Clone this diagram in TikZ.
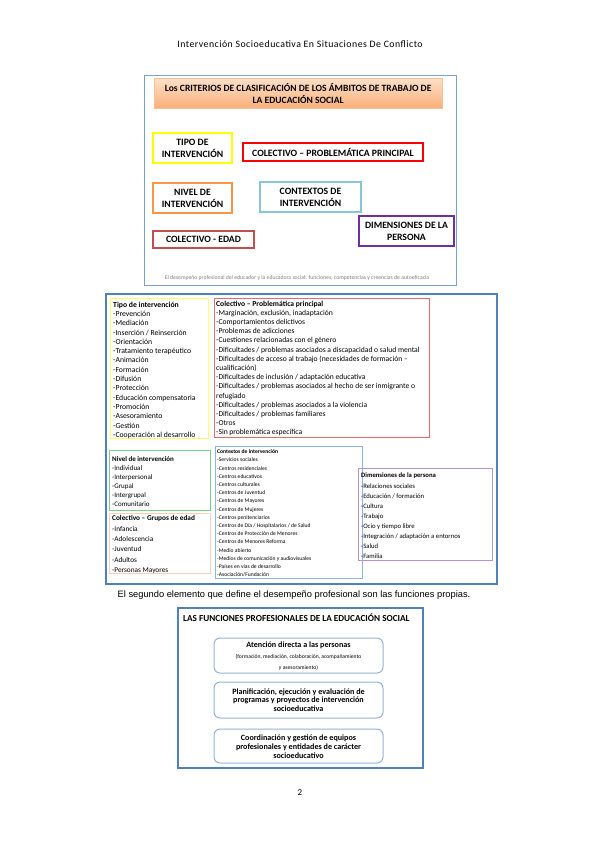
\documentclass[tikz,border=0pt]{standalone}
\usepackage{fontspec}
\setmainfont{Carlito}
\newfontfamily\arialf{Liberation Sans}
\usetikzlibrary{positioning,shadings}
\definecolor{fonecol}{HTML}{7BA0CD}
\definecolor{mainblue}{HTML}{4F81BD}
\definecolor{softblue}{HTML}{95B3D7}
\definecolor{peachA}{HTML}{FCE0C8}
\definecolor{peachB}{HTML}{F8B07A}
\definecolor{cyellow}{HTML}{FFFF00}
\definecolor{cred}{HTML}{FF0000}
\definecolor{corange}{HTML}{F79646}
\definecolor{ccyan}{HTML}{86C5DA}
\definecolor{cpurple}{HTML}{7030A0}
\definecolor{cbrick}{HTML}{C0504D}
\definecolor{lyellow}{HTML}{FFFF66}
\definecolor{lred}{HTML}{E46C6C}
\definecolor{lgreen}{HTML}{77D38A}
\definecolor{lpeach}{HTML}{FAD1B8}
\definecolor{lblue}{HTML}{8EB4E3}
\definecolor{lpurple}{HTML}{B294CF}
\definecolor{footgray}{HTML}{808080}
\tikzset{
  frame/.style={draw, inner sep=0pt, anchor=north west},
  critbox/.style={draw, line width=1.2pt, inner sep=0pt, align=center,
    font=\fontsize{9.7}{12}\selectfont\bfseries},
  listtext/.style={anchor=north west, inner sep=0pt, align=left},
  funcbox/.style={draw=softblue, line width=1pt, rounded corners=6pt, inner sep=0pt,
    minimum width=169pt, align=center},
}
\begin{document}
\begin{tikzpicture}[x=1pt,y=-1pt]
\useasboundingbox[fill=white] (0,0) rectangle (599,848);

% header
\node (hdr) at (300,44) {\fontsize{9.8}{11}\selectfont\addfontfeature{LetterSpace=5}Intervención Socioeducativa En Situaciones De Conflicto};

% ---------- figure 1 ----------
\node[frame, draw=fonecol, line width=0.8pt, minimum width=312pt, minimum height=210pt] (f1) at (144,75) {};
\node[anchor=north west, inner sep=0pt, minimum width=288pt, minimum height=30pt,
  top color=peachA, bottom color=peachB, draw=peachB!80!white, line width=0.3pt,
  align=center, font=\fontsize{9.6}{12}\selectfont\bfseries] (f1title) at (154,78)
  {Los CRITERIOS DE CLASIFICACIÓN DE LOS ÁMBITOS DE TRABAJO DE\\LA EDUCACIÓN SOCIAL};

\node[critbox, draw=cyellow, minimum width=79pt, minimum height=30pt] (c1) at (192.5,148) {TIPO DE\\INTERVENCIÓN};
\node[critbox, draw=cred, minimum width=180pt, minimum height=18pt] (c2) at (333,152) {COLECTIVO – PROBLEMÁTICA PRINCIPAL};
\node[critbox, draw=corange, minimum width=79pt, minimum height=30pt] (c3) at (192.5,198) {NIVEL DE\\INTERVENCIÓN};
\node[critbox, draw=ccyan, minimum width=101pt, minimum height=30pt] (c4) at (310.5,197) {CONTEXTOS DE\\INTERVENCIÓN};
\node[critbox, draw=cpurple, minimum width=95pt, minimum height=30pt] (c5) at (406.5,231) {DIMENSIONES DE LA\\PERSONA};
\node[critbox, draw=cbrick, minimum width=101pt, minimum height=17pt] (c6) at (203.5,239.5) {COLECTIVO - EDAD};

\node[text=footgray, font=\fontsize{5.7}{6}\selectfont] (f1foot) at (297,278)
  {El desempeño profesional del educador y la educadora social: funciones, competencias y creencias de autoeficacia};

% ---------- figure 2 ----------
\node[frame, draw=mainblue, line width=2pt, minimum width=391pt, minimum height=290pt] (f2) at (105,293) {};

\node[frame, draw=lyellow, line width=1pt, minimum width=98pt, minimum height=140pt] (tipo) at (110,298) {};
\node[listtext, font=\fontsize{7.7}{9.3}\selectfont] (tipoT) at ([shift={(3,3.5)}]tipo.north west)
  {\textbf{Tipo de intervención}\\-Prevención\\-Mediación\\-Inserción / Reinserción\\-Orientación\\-Tratamiento terapéutico\\-Animación\\-Formación\\-Difusión\\-Protección\\-Educación compensatoria\\-Promoción\\-Asesoramiento\\-Gestión\\-Cooperación al desarrollo};

\node[frame, draw=lred, line width=1pt, minimum width=215pt, minimum height=139pt] (prob) at (214,298) {};
\node[listtext, font=\fontsize{7.6}{9.2}\selectfont] (probT) at ([shift={(2,2.5)}]prob.north west)
  {\textbf{Colectivo – Problemática principal}\\-Marginación, exclusión, inadaptación\\-Comportamientos delictivos\\-Problemas de adicciones\\-Cuestiones relacionadas con el género\\-Dificultades / problemas asociados a discapacidad o salud mental\\-Dificultades de acceso al trabajo (necesidades de formación –\\cualificación)\\-Dificultades de inclusión / adaptación educativa\\-Dificultades / problemas asociados al hecho de ser inmigrante o\\refugiado\\-Dificultades / problemas asociados a la violencia\\-Dificultades / problemas familiares\\-Otros\\-Sin problemática específica};

\node[frame, draw=lgreen, line width=1pt, minimum width=101pt, minimum height=60pt] (nivel) at (109,450) {};
\node[listtext, font=\fontsize{7}{9}\selectfont] (nivelT) at ([shift={(3,6)}]nivel.north west)
  {\textbf{Nivel de intervención}\\-Individual\\-Interpersonal\\-Grupal\\-Intergrupal\\-Comunitario};

\node[frame, draw=lpeach, line width=1pt, minimum width=101pt, minimum height=60pt] (edad) at (109,513) {};
\node[listtext, font=\fontsize{7.3}{10.3}\selectfont] (edadT) at ([shift={(3,2.5)}]edad.north west)
  {\textbf{Colectivo – Grupos de edad}\\-Infancia\\-Adolescencia\\-Juventud\\-Adultos\\-Personas Mayores};

\node[frame, draw=lblue, line width=1pt, minimum width=147pt, minimum height=132pt] (ctx) at (215,446) {};
\node[listtext, font=\fontsize{5.6}{8.2}\selectfont] (ctxT) at ([shift={(2,3.5)}]ctx.north west)
  {\textbf{Contextos de intervención}\\-Servicios sociales\\-Centros residenciales\\-Centros educativos\\-Centros culturales\\-Centros de Juventud\\-Centros de Mayores\\-Centros de Mujeres\\-Centros penitenciarios\\-Centros de Día / Hospitalarios / de Salud\\-Centros de Protección de Menores\\-Centros de Menores Reforma\\-Medio abierto\\-Medios de comunicación y audiovisuales\\-Países en vías de desarrollo\\-Asociación/Fundación};

\node[frame, draw=lpurple, line width=1pt, minimum width=134pt, minimum height=92pt] (dim) at (358,468) {};
\node[listtext, font=\fontsize{6.7}{10.1}\selectfont] (dimT) at ([shift={(3,5)}]dim.north west)
  {\textbf{Dimensiones de la persona}\\-Relaciones sociales\\-Educación / formación\\-Cultura\\-Trabajo\\-Ocio y tiempo libre\\-Integración / adaptación a entornos\\-Salud\\-Familia};

% caption
\node[font=\arialf\fontsize{9.3}{10}\selectfont] (cap) at (294,595)
  {El segundo elemento que define el desempeño profesional son las funciones propias.};

% ---------- figure 3 ----------
\node[frame, draw=mainblue, line width=2pt, minimum width=245pt, minimum height=160pt] (f3) at (177,607) {};
\node[anchor=west, inner sep=0pt, font=\fontsize{9.2}{10}\selectfont\bfseries] (f3title) at (183,618)
  {LAS FUNCIONES PROFESIONALES DE LA EDUCACIÓN SOCIAL};

\node[funcbox, minimum height=35pt] (fn1) at (298.5,655.5) {};
\node[inner sep=0pt, align=center] (fn1T) at (298.5,656)
  {{\fontsize{8.1}{8.5}\selectfont\bfseries Atención directa a las personas}\\[-1pt]
   {\fontsize{5.6}{8}\selectfont (formación, mediación, colaboración, acompañamiento}\\[-1pt]
   {\fontsize{5.6}{8}\selectfont y asesoramiento)}};
\node[funcbox, minimum height=36pt] (fn2) at (298.5,700) {};
\node[inner sep=0pt, align=center, font=\fontsize{8.1}{8.3}\selectfont\bfseries] (fn2T) at (298.5,700)
  {Planificación, ejecución y evaluación de\\programas y proyectos de intervención\\socioeducativa};
\node[funcbox, minimum height=34pt] (fn3) at (298.5,746) {};
\node[inner sep=0pt, align=center, font=\fontsize{8.1}{9}\selectfont\bfseries] (fn3T) at (298.5,747)
  {Coordinación y gestión de equipos\\profesionales y entidades de carácter\\socioeducativo};

% page number
\node[font=\fontsize{9}{10}\selectfont] (pg) at (300,793) {2};
\end{tikzpicture}
\end{document}
